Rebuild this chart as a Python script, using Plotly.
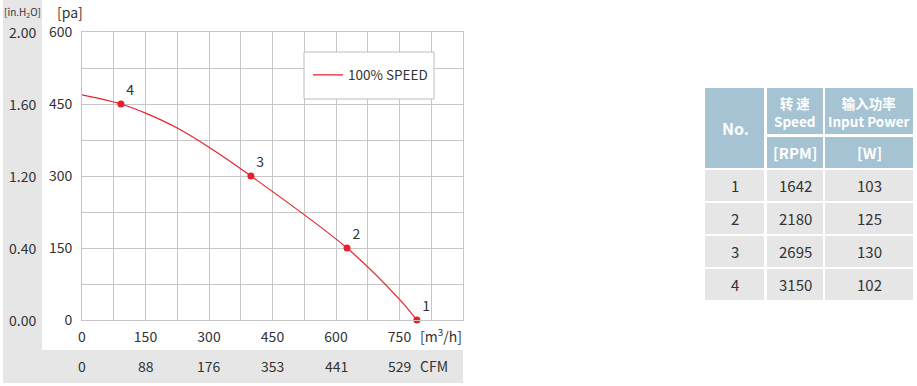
import plotly.graph_objects as go

W, H = 917, 386

# ---- data ----
flow_ticks = [0, 150, 300, 450, 600, 750]
cfm_labels = ["0", "88", "176", "353", "441", "529"]
pa_ticks = [0, 150, 300, 450, 600]
inh2o_labels = ["0.00", "0.40", "1.20", "1.60", "2.00"]

curve_flow = [0, 92, 150, 225, 300, 399, 626, 750, 791]
curve_pa = [469, 450, 431, 400, 360, 300, 150, 43, 0]

point_ids = ["1", "2", "3", "4"]
point_flow = [791, 626, 399, 92]
point_pa = [0, 150, 300, 450]

table_no = ["1", "2", "3", "4"]
table_rpm = ["1642", "2180", "2695", "3150"]
table_watt = ["103", "125", "130", "102"]

FONT = "Noto Sans CJK SC"
TXT = "#333333"
RED = "#e8202a"
GRID = "#c6c6c6"
BAND = "#e6e6e6"
HEAD = "#a6c3d3"


def px(x):
    return x / W


def py(y):
    return 1 - y / H


fig = go.Figure()

fig.add_trace(go.Scatter(
    x=curve_flow, y=curve_pa, mode="lines", name="100% SPEED",
    line=dict(color=RED, width=1.2, shape="spline", smoothing=0.9),
))
fig.add_trace(go.Scatter(
    x=point_flow, y=point_pa, mode="markers+text", text=point_ids,
    textposition="top right", showlegend=False,
    marker=dict(color=RED, size=7),
    textfont=dict(family=FONT, size=14, color=TXT), cliponaxis=False,
))

grid_vals = [i * 75 for i in range(13)]
xtext = [str(v) if v in flow_ticks else "" for v in grid_vals]
ygrid = [i * 75 for i in range(9)]
ytext = [str(v) if v in pa_ticks else "" for v in ygrid]

shapes = []
ann = []


def note(x, y, t, size=14, color=TXT, xref="paper", yref="paper"):
    ann.append(dict(x=x, y=y, xref=xref, yref=yref, text=t, showarrow=False,
                    xanchor="center", yanchor="middle",
                    font=dict(family=FONT, size=size, color=color)))


# grey bands
shapes.append(dict(type="rect", xref="paper", yref="paper", x0=px(3), x1=px(42),
                   y0=py(383), y1=py(0), fillcolor=BAND, line=dict(width=0), layer="below"))
shapes.append(dict(type="rect", xref="paper", yref="paper", x0=px(3), x1=px(463),
                   y0=py(383), y1=py(350), fillcolor=BAND, line=dict(width=0), layer="below"))
# legend box
shapes.append(dict(type="rect", xref="paper", yref="paper", x0=px(304), x1=px(434),
                   y0=py(99), y1=py(52), fillcolor="white",
                   line=dict(color="#bdbdbd", width=1), layer="above"))

for v, t in zip(flow_ticks, cfm_labels):
    note(v, py(366), t, xref="x")
note(px(434), py(366), "CFM")
note(px(441), py(335), "[m<sup>3</sup>/h]")
for v, t in zip(pa_ticks, inh2o_labels):
    note(px(22), v, t, yref="y")
note(px(22), py(12), "[in.H<sub>2</sub>O]", size=10)
note(px(70), py(12), "[pa]")

# ---- table ----
cols = [(705, 764), (767, 823), (825, 913)]
shapes.append(dict(type="rect", xref="paper", yref="paper", x0=px(705), x1=px(764),
                   y0=py(168), y1=py(88), fillcolor=HEAD, line=dict(width=0)))
for (a, b) in cols[1:]:
    shapes.append(dict(type="rect", xref="paper", yref="paper", x0=px(a), x1=px(b),
                       y0=py(134), y1=py(88), fillcolor=HEAD, line=dict(width=0)))
    shapes.append(dict(type="rect", xref="paper", yref="paper", x0=px(a), x1=px(b),
                       y0=py(168), y1=py(137), fillcolor=HEAD, line=dict(width=0)))
rows = [(170, 201), (203, 234), (236, 267), (269, 300)]
for (r0, r1) in rows:
    for (a, b) in cols:
        shapes.append(dict(type="rect", xref="paper", yref="paper", x0=px(a), x1=px(b),
                           y0=py(r1), y1=py(r0), fillcolor=BAND, line=dict(width=0)))

note(px(735), py(128), "<b>No.</b>", 16, "white")
note(px(795), py(111.5), "<b>转 速</b><br><b>Speed</b>", 13.5, "white")
note(px(869), py(111.5), "<b>输入功率</b><br><b>Input Power</b>", 13.5, "white")
note(px(795), py(152), "<b>[RPM]</b>", 15, "white")
note(px(869), py(152), "<b>[W]</b>", 15, "white")

for i, (r0, r1) in enumerate(rows):
    yc = (r0 + r1) / 2
    for (a, b), vals in zip(cols, [table_no, table_rpm, table_watt]):
        note(px((a + b) / 2), py(yc), vals[i], 15)

fig.update_layout(
    width=W, height=H, autosize=False,
    margin=dict(l=0, r=0, t=0, b=0, pad=0, autoexpand=False),
    paper_bgcolor="white", plot_bgcolor="white",
    font=dict(family=FONT, size=14, color=TXT),
    xaxis=dict(domain=[px(82), px(463)], range=[0, 900], tickvals=grid_vals, ticktext=xtext,
               showgrid=True, gridcolor=GRID, gridwidth=1, zeroline=False, automargin=False,
               showline=True, linecolor=GRID, mirror=True, ticks="", ticklabelstandoff=4,
               tickfont=dict(family=FONT, size=14, color=TXT), fixedrange=True),
    yaxis=dict(domain=[py(320), py(32)], range=[0, 600], tickvals=ygrid, ticktext=ytext,
               showgrid=True, gridcolor=GRID, gridwidth=1, zeroline=False, automargin=False,
               showline=True, linecolor=GRID, mirror=True, ticks="", ticklabelstandoff=6,
               tickfont=dict(family=FONT, size=14, color=TXT), fixedrange=True),
    legend=dict(x=px(308), y=py(75), xanchor="left", yanchor="middle",
                bgcolor="rgba(0,0,0,0)", borderwidth=0,
                font=dict(family=FONT, size=13.5, color=TXT)),
    shapes=shapes, annotations=ann, showlegend=True,
)

fig.write_html("out.html", config={"displayModeBar": False, "responsive": False},
               post_script="document.body.style.margin='0';document.body.style.overflow='hidden';")
